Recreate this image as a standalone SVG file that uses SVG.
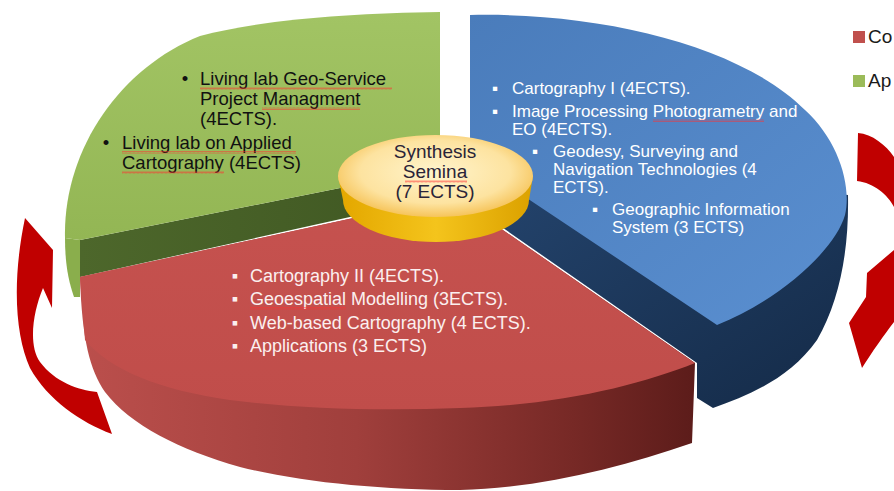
<svg xmlns="http://www.w3.org/2000/svg" width="894" height="491" viewBox="0 0 894 491">
<defs>
  <linearGradient id="gTop" x1="0" y1="0" x2="0" y2="1">
    <stop offset="0" stop-color="#a2c464"/>
    <stop offset="1" stop-color="#93b654"/>
  </linearGradient>
  <linearGradient id="gDark" x1="0" y1="0" x2="1" y2="0">
    <stop offset="0" stop-color="#4d672b"/>
    <stop offset="1" stop-color="#3f5722"/>
  </linearGradient>
  <linearGradient id="bTop" x1="0" y1="0" x2="1" y2="1">
    <stop offset="0" stop-color="#4a7cbb"/>
    <stop offset="1" stop-color="#5a8fd0"/>
  </linearGradient>
  <linearGradient id="bSide" x1="0" y1="0" x2="1" y2="1">
    <stop offset="0" stop-color="#254670"/>
    <stop offset="1" stop-color="#142a47"/>
  </linearGradient>
  <linearGradient id="rFront" x1="0" y1="0" x2="1" y2="0">
    <stop offset="0" stop-color="#bb4f4c"/>
    <stop offset="0.45" stop-color="#a03f3c"/>
    <stop offset="0.8" stop-color="#772926"/>
    <stop offset="1" stop-color="#5c1c1a"/>
  </linearGradient>
  <linearGradient id="rTop" x1="0" y1="0" x2="0" y2="1">
    <stop offset="0" stop-color="#c6524f"/>
    <stop offset="1" stop-color="#c04d4a"/>
  </linearGradient>
  <linearGradient id="ySide" x1="0" y1="0" x2="1" y2="0">
    <stop offset="0" stop-color="#e4a800"/>
    <stop offset="0.5" stop-color="#f4c41c"/>
    <stop offset="1" stop-color="#dca200"/>
  </linearGradient>
  <radialGradient id="yTop" cx="0.5" cy="0.45" r="0.55">
    <stop offset="0" stop-color="#fff4cc"/>
    <stop offset="0.7" stop-color="#fde3a0"/>
    <stop offset="1" stop-color="#f6c45a"/>
  </radialGradient>
  <pattern id="sq" width="4" height="3" patternUnits="userSpaceOnUse">
    <path d="M0,2.5 L1,0.5 L2,2.5 L3,0.5 L4,2.5" fill="none" stroke="#ff3030" stroke-width="0.5"/>
  </pattern>
</defs>
<style>
  .t { font-family: "Liberation Sans", Arial, sans-serif; }
  .blk { fill: #111111; font-size: 18.5px; }
  .wht { fill: #ffffff; font-size: 17px; }
  .wr { fill: #fbefef; font-size: 18px; }
  .hub { fill: #2a2438; font-size: 19px; text-anchor: middle; }
  .sq { fill: url(#sq); }
  .arrow { fill: #c00000; }
  .leg { fill: #1a1a1a; font-size: 19px; }
</style>
<rect width="894" height="491" fill="#ffffff"/>

<g id="slice-blue">
  <path d="M470,150 L848,195 C849,250 840,300 817,340 C790,378 750,395 713,408 L697,398 L697,363 L470,205 Z" fill="url(#bSide)"/>
  <path d="M470,15 C600,12 740,45 805,110 C838,140 852,185 845,215 C835,250 780,300 717,325 L470,160 Z" fill="url(#bTop)"/>
</g>

<g id="slice-green">
  <path d="M65,238 L80,240 L80,297 L74,297 C68,280 65,262 65,238 Z" fill="#8aae4c"/>
  <path d="M80,240 L440,168 L440,197 L80,277 Z" fill="url(#gDark)"/>
  <path d="M65,238 L80,240 L440,168 L440,12 C350,13 260,20 200,36 C120,68 63,150 65,238 Z" fill="url(#gTop)"/>
</g>

<g id="slice-red">
  <path d="M80,277 L460,195 L500,228 L695,363 L692,443 C620,468 540,488 460,490 C380,490 300,482 240,467 C180,450 130,425 105,392 C90,370 82,340 80,277 Z" fill="url(#rFront)"/>
  <path d="M80,277 L460,195 L500,228 L695,363 C640,385 560,405 460,408 C380,411 300,409 230,400 C160,390 110,370 85,340 Z" fill="url(#rTop)"/>
</g>

<g id="hub-synthesis">
  <ellipse cx="436" cy="200" rx="93" ry="42" fill="url(#ySide)"/>
  <path d="M338,176 L533,176 L529,200 L343,200 Z" fill="url(#ySide)"/>
  <ellipse cx="435.5" cy="176" rx="97.5" ry="41" fill="url(#yTop)"/>
  <text class="t hub" x="435" y="158">Synthesis</text>
  <text class="t hub" x="435" y="178">Semina</text>
  <text class="t hub" x="435" y="198">(7 ECTS)</text>
  <rect class="sq" x="405" y="180" width="62" height="3"/>
</g>

<g id="text-green">
  <text class="t blk" x="185" y="85" text-anchor="middle">•</text>
  <text class="t blk" x="200" y="85">Living lab Geo-Service</text>
  <text class="t blk" x="200" y="105">Project Managment</text>
  <text class="t blk" x="200" y="125">(4ECTS).</text>
  <text class="t blk" x="106" y="149" text-anchor="middle">•</text>
  <text class="t blk" x="122" y="149">Living lab on Applied</text>
  <text class="t blk" x="122" y="169">Cartography (4ECTS)</text>
  <rect class="sq" x="200" y="87" width="192" height="3"/>
  <rect class="sq" x="262" y="107" width="98" height="3"/>
  <rect class="sq" x="122" y="151" width="174" height="3"/>
  <rect class="sq" x="122" y="171" width="102" height="3"/>
</g>

<g id="text-blue">
  <text class="t wht" x="495" y="94" text-anchor="middle">▪</text>
  <text class="t wht" x="512" y="94">Cartography I (4ECTS).</text>
  <text class="t wht" x="495" y="117" text-anchor="middle">▪</text>
  <text class="t wht" x="512" y="117">Image Processing Photogrametry and</text>
  <text class="t wht" x="512" y="135">EO (4ECTS).</text>
  <text class="t wht" x="535" y="157" text-anchor="middle">▪</text>
  <text class="t wht" x="553" y="157">Geodesy, Surveying and</text>
  <text class="t wht" x="553" y="175">Navigation Technologies (4</text>
  <text class="t wht" x="553" y="193">ECTS).</text>
  <text class="t wht" x="595" y="215" text-anchor="middle">▪</text>
  <text class="t wht" x="612" y="215">Geographic Information</text>
  <text class="t wht" x="612" y="233">System (3 ECTS)</text>
  <rect class="sq" x="653" y="119" width="111" height="3"/>
</g>

<g id="text-red">
  <text class="t wr" x="235" y="282" text-anchor="middle">▪</text>
  <text class="t wr" x="250" y="282">Cartography II (4ECTS).</text>
  <text class="t wr" x="235" y="305" text-anchor="middle">▪</text>
  <text class="t wr" x="250" y="305">Geoespatial Modelling (3ECTS).</text>
  <text class="t wr" x="235" y="329" text-anchor="middle">▪</text>
  <text class="t wr" x="250" y="329">Web-based Cartography (4 ECTS).</text>
  <text class="t wr" x="235" y="352" text-anchor="middle">▪</text>
  <text class="t wr" x="250" y="352">Applications (3 ECTS)</text>
  <rect class="sq" x="250" y="307" width="96" height="3"/>
</g>

<g id="connectors">
  <path class="arrow" d="M25,218 L53,250 L52,308 L43,288 C33,312 28,345 40,362 C55,382 78,390 97,392 L112,434 C80,422 48,400 30,368 C15,335 12,280 25,218 Z"/>
  <path class="arrow" d="M858,133 C872,134 886,145 894,157 L894,207 C888,195 874,183 857,181 Z"/>
  <path class="arrow" d="M894,250 L867,273 L866,297 L849,323 L862,368 C872,352 884,335 894,322 Z"/>
</g>

<g id="legend">
  <rect x="853" y="31" width="12" height="12" fill="#c0504d"/>
  <text class="t leg" x="868" y="43">Co</text>
  <rect x="853" y="75" width="12" height="12" fill="#9bbb59"/>
  <text class="t leg" x="868" y="87">Ap</text>
</g>
</svg>
